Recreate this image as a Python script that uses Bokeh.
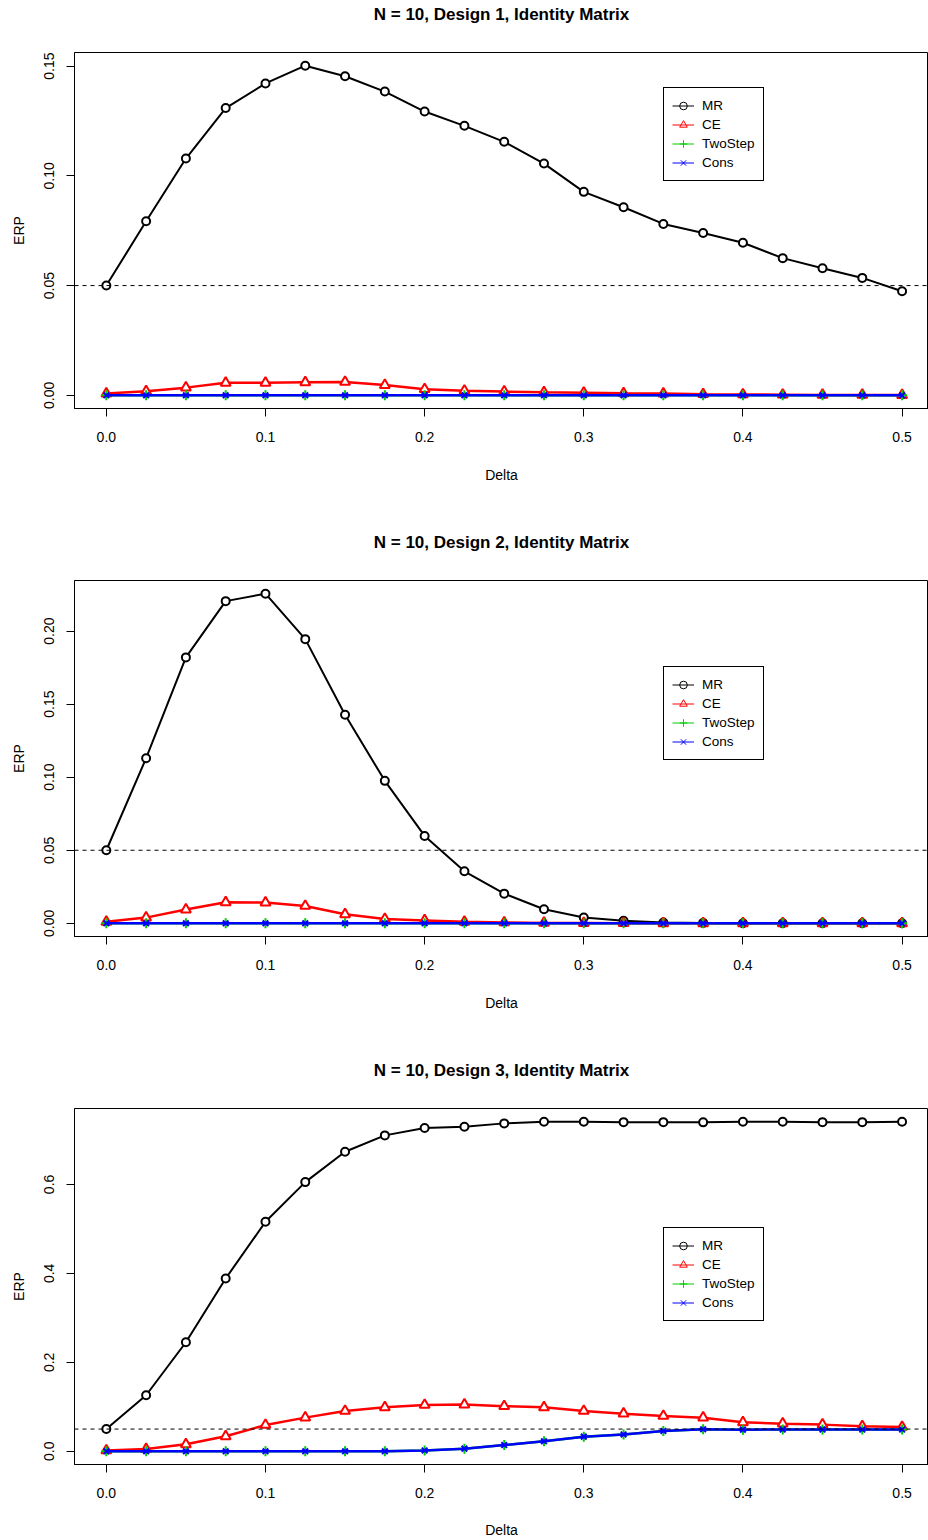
import math
from bokeh.plotting import figure
from bokeh.layouts import column
from bokeh.models import (Range1d, FixedTicker, Span, Legend, LegendItem, Title,
                          ColumnDataSource, PrintfTickFormatter)
from bokeh.embed import file_html
from bokeh.resources import INLINE

# ---------------- data ----------------
delta = [0.0, 0.025, 0.05, 0.075, 0.1, 0.125, 0.15, 0.175, 0.2, 0.225, 0.25,
         0.275, 0.3, 0.325, 0.35, 0.375, 0.4, 0.425, 0.45, 0.475, 0.5]

series_names = ["MR", "CE", "TwoStep", "Cons"]
nominal_level = 0.05

titles = ["N = 10, Design 1, Identity Matrix",
          "N = 10, Design 2, Identity Matrix",
          "N = 10, Design 3, Identity Matrix"]

# Design 1
mr1 = [0.0500, 0.0793, 0.1079, 0.1309, 0.1421, 0.1502, 0.1454, 0.1384, 0.1293, 0.1228, 0.1155,
       0.1056, 0.0927, 0.0857, 0.0781, 0.0740, 0.0695, 0.0625, 0.0579, 0.0535, 0.0474]
ce1 = [0.0008, 0.0018, 0.0035, 0.0057, 0.0057, 0.0059, 0.0061, 0.0047, 0.0028, 0.0021, 0.0017,
       0.0014, 0.0012, 0.0009, 0.0008, 0.0005, 0.0004, 0.0003, 0.0002, 0.0002, 0.0001]
ts1 = [0.0] * 21
cons1 = [0.0] * 21

# Design 2
mr2 = [0.0500, 0.1130, 0.1820, 0.2205, 0.2256, 0.1945, 0.1427, 0.0975, 0.0598, 0.0356, 0.0203,
       0.0096, 0.0040, 0.0018, 0.0006, 0.0003, 0.0001, 0.0, 0.0, 0.0, 0.0]
ce2 = [0.0010, 0.0039, 0.0094, 0.0144, 0.0142, 0.0119, 0.0062, 0.0030, 0.0020, 0.0010, 0.0006,
       0.0003, 0.0002, 0.0001, 0.0, 0.0, 0.0, 0.0, 0.0, 0.0, 0.0]
ts2 = [0.0] * 21
cons2 = [0.0] * 21

# Design 3
mr3 = [0.0502, 0.1260, 0.2452, 0.3885, 0.5160, 0.6052, 0.6734, 0.7102, 0.7267, 0.7297, 0.7372,
       0.7410, 0.7410, 0.7400, 0.7400, 0.7395, 0.7410, 0.7410, 0.7400, 0.7400, 0.7410]
ce3 = [0.0020, 0.0050, 0.0158, 0.0337, 0.0592, 0.0757, 0.0907, 0.0990, 0.1042, 0.1050, 0.1015,
       0.0990, 0.0907, 0.0847, 0.0795, 0.0757, 0.0652, 0.0622, 0.0600, 0.0562, 0.0547]
ts3 = [0.0, 0.0, 0.0, 0.0, 0.0, 0.0, 0.0, 0.0, 0.0020, 0.0060, 0.0140,
       0.0225, 0.0330, 0.0380, 0.0457, 0.0495, 0.0487, 0.0490, 0.0490, 0.0490, 0.0490]
cons3 = [0.0, 0.0, 0.0, 0.0, 0.0, 0.0, 0.0, 0.0, 0.0020, 0.0060, 0.0140,
         0.0225, 0.0330, 0.0380, 0.0457, 0.0495, 0.0487, 0.0490, 0.0490, 0.0490, 0.0490]

x_ticks = [0.0, 0.1, 0.2, 0.3, 0.4, 0.5]
x_tick_labels = ["0.0", "0.1", "0.2", "0.3", "0.4", "0.5"]
y_ticks1 = [0.0, 0.05, 0.10, 0.15]
y_tick_labels1 = ["0.00", "0.05", "0.10", "0.15"]
y_ticks2 = [0.0, 0.05, 0.10, 0.15, 0.20]
y_tick_labels2 = ["0.00", "0.05", "0.10", "0.15", "0.20"]
y_ticks3 = [0.0, 0.2, 0.4, 0.6]
y_tick_labels3 = ["0.0", "0.2", "0.4", "0.6"]

# ---------------- style ----------------
FONT = "Liberation Sans"
colors = ["black", "#FF0000", "#00CD00", "#0000FF"]
markers = ["circle", "triangle", "cross", "x"]
marker_sizes = [8, 10, 10, 8]
line_widths = [2, 2.5, 2.5, 2.5]
fills = ["white", "white", None, None]
legend_marker_sizes = [7, 8, 10, 7]


def make_panel(title, values, yticks, ylabels, height, bottom, legend_bottom, xlab_standoff):
    allv = [v for s in values for v in s]
    lo, hi = min(allv), max(allv)
    pad = 0.04 * (hi - lo)
    p = figure(width=928, height=height,
               x_range=Range1d(-0.02, 0.5166), y_range=Range1d(lo - pad, hi + pad),
               output_backend="svg", toolbar_location=None,
               min_border_left=74, min_border_right=0,
               min_border_top=52, min_border_bottom=bottom,
               title=title)
    p.background_fill_color = "white"
    p.border_fill_color = "white"
    p.outline_line_color = "black"
    p.outline_line_width = 1
    p.outline_line_alpha = 1
    p.xgrid.visible = False
    p.ygrid.visible = False

    # main title (outermost), with an empty spacer between it and the frame
    p.title.align = "center"
    p.title.text_font = FONT
    p.title.text_font_style = "bold"
    p.title.text_font_size = "17px"
    p.title.text_color = "black"
    p.title.standoff = 0
    p.add_layout(Title(text=" ", text_font_size="14px", standoff=11), "above")

    for ax in (p.xaxis[0], p.yaxis[0]):
        ax.axis_line_color = "black"
        ax.major_tick_line_color = "black"
        ax.major_tick_out = 8
        ax.major_tick_in = 0
        ax.minor_tick_line_color = None
        ax.major_label_text_font = FONT
        ax.major_label_text_font_size = "14px"
        ax.major_label_text_color = "black"
        ax.axis_label_text_font = FONT
        ax.axis_label_text_font_size = "14px"
        ax.axis_label_text_font_style = "normal"
        ax.axis_label_text_color = "black"

    xa = p.xaxis[0]
    xa.ticker = FixedTicker(ticks=x_ticks)
    xa.formatter = PrintfTickFormatter(format="%.1f")
    xa.major_label_overrides = dict(zip(x_ticks, x_tick_labels))
    xa.major_label_standoff = 15
    xa.axis_label = "Delta"
    xa.axis_label_standoff = xlab_standoff

    ya = p.yaxis[0]
    ya.ticker = FixedTicker(ticks=yticks)
    ya.major_label_overrides = dict(zip(yticks, ylabels))
    ya.major_label_orientation = "vertical"
    ya.major_label_standoff = 12
    ya.axis_label = "ERP"
    ya.axis_label_standoff = 15

    for i, ys in enumerate(values):
        p.line(delta, ys, line_color=colors[i], line_width=line_widths[i])
        p.scatter(delta, ys, marker=markers[i], size=marker_sizes[i],
                  line_color=colors[i], line_width=2, fill_color=fills[i])

    p.add_layout(Span(location=nominal_level, dimension="width", line_color="black",
                      line_width=1, line_dash="4 4"))

    items = []
    for i, name in enumerate(series_names):
        src = ColumnDataSource(data=dict(x=[float("nan")], y=[float("nan")]))
        lr = p.line("x", "y", source=src, line_color=colors[i], line_width=1)
        sr = p.scatter("x", "y", source=src, marker=markers[i], size=legend_marker_sizes[i],
                       line_color=colors[i], line_width=1, fill_color=None)
        items.append(LegendItem(label=name, renderers=[lr, sr]))
    legend = Legend(items=items, location=(589, legend_bottom), orientation="vertical",
                    padding=8, spacing=0, margin=0,
                    glyph_width=22, glyph_height=19, label_height=19, label_width=10,
                    label_standoff=8,
                    border_line_color="black", border_line_width=1, border_line_alpha=1,
                    background_fill_color="white", background_fill_alpha=1,
                    label_text_font=FONT, label_text_font_size="13.5px",
                    label_text_color="black")
    p.add_layout(legend)
    return p


p1 = make_panel(titles[0], [mr1, ce1, ts1, cons1], y_ticks1, y_tick_labels1,
                528, 120, 227, 22)
p2 = make_panel(titles[1], [mr2, ce2, ts2, cons2], y_ticks2, y_tick_labels2,
                528, 120, 176, 22)
p3 = make_panel(titles[2], [mr3, ce3, ts3, cons3], y_ticks3, y_tick_labels3,
                484, 76, 143, 21)

layout = column(p1, p2, p3)
open("out.html", "w").write(file_html(layout, INLINE))
